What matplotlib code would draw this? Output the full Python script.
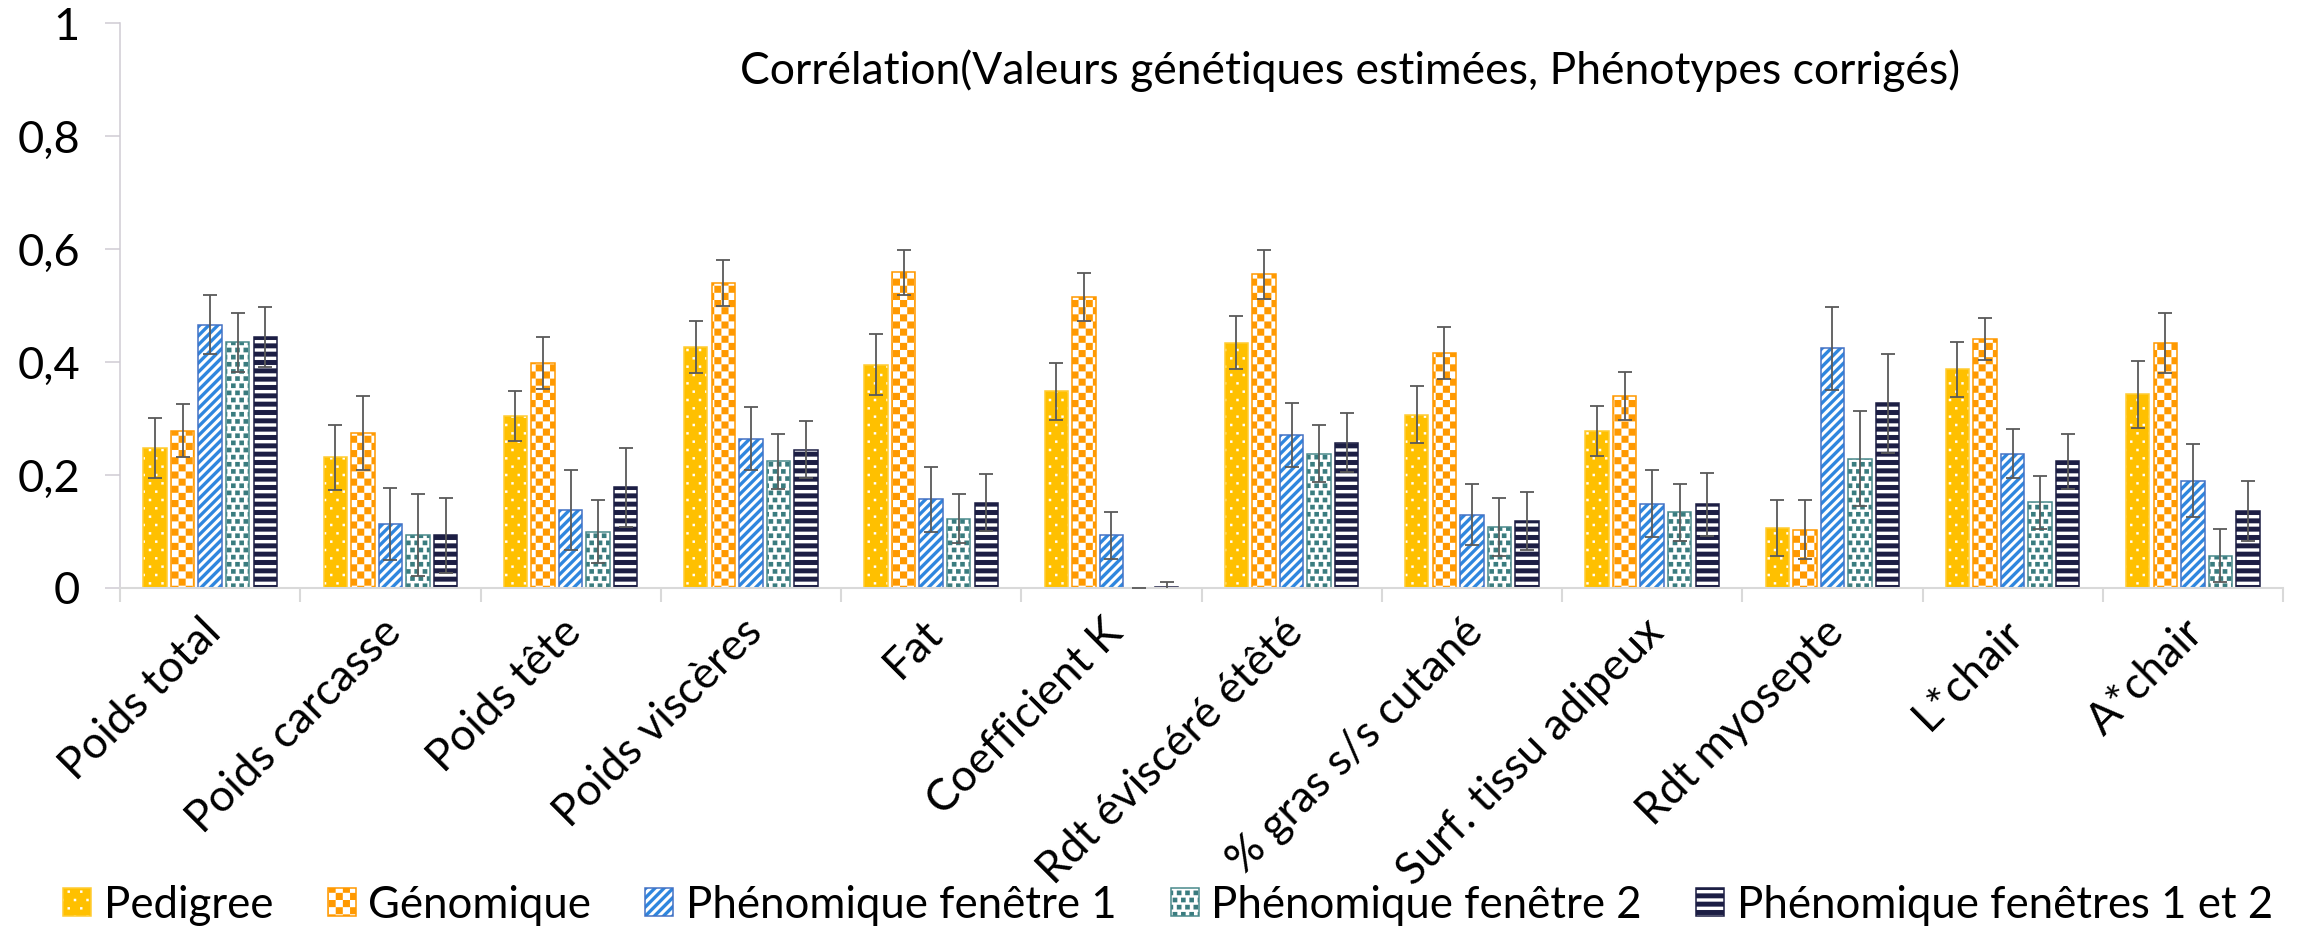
import numpy as np
import matplotlib
matplotlib.use("Agg")
import matplotlib.pyplot as plt
from matplotlib import hatch as mhatch
from matplotlib.path import Path
from matplotlib.patches import Rectangle
from matplotlib.legend_handler import HandlerTuple
import matplotlib.transforms as mtransforms

# ---------------- data ----------------
categories = ["Poids total", "Poids carcasse", "Poids tête", "Poids viscères", "Fat",
              "Coefficient K", "Rdt éviscéré étêté", "% gras s/s cutané",
              "Surf. tissu adipeux", "Rdt myosepte", "L*chair", "A*chair"]
series_names = ["Pedigree", "Génomique", "Phénomique fenêtre 1",
                "Phénomique fenêtre 2", "Phénomique fenêtres 1 et 2"]

pedigree = [0.248, 0.231, 0.305, 0.426, 0.395, 0.348, 0.434, 0.307, 0.278, 0.106, 0.387, 0.343]
pedigree_err = [0.053, 0.058, 0.044, 0.046, 0.054, 0.050, 0.047, 0.051, 0.045, 0.050, 0.049, 0.059]
genomique = [0.278, 0.274, 0.398, 0.540, 0.559, 0.515, 0.555, 0.416, 0.340, 0.103, 0.441, 0.433]
genomique_err = [0.047, 0.065, 0.046, 0.040, 0.040, 0.042, 0.043, 0.046, 0.043, 0.052, 0.037, 0.053]
phen1 = [0.466, 0.113, 0.138, 0.264, 0.157, 0.093, 0.271, 0.130, 0.149, 0.424, 0.238, 0.190]
phen1_err = [0.052, 0.064, 0.070, 0.056, 0.058, 0.042, 0.057, 0.054, 0.059, 0.073, 0.044, 0.064]
phen2 = [0.435, 0.094, 0.100, 0.224, 0.123, -0.002, 0.238, 0.108, 0.134, 0.229, 0.152, 0.057]
phen2_err = [0.052, 0.072, 0.055, 0.048, 0.043, 0.002, 0.050, 0.051, 0.050, 0.084, 0.047, 0.047]
phen12 = [0.445, 0.093, 0.178, 0.245, 0.151, 0.002, 0.257, 0.119, 0.148, 0.327, 0.224, 0.136]
phen12_err = [0.053, 0.066, 0.070, 0.051, 0.050, 0.008, 0.052, 0.051, 0.056, 0.088, 0.049, 0.053]

y_ticks = [0, 0.2, 0.4, 0.6, 0.8, 1.0]
y_tick_labels = ["0", "0,2", "0,4", "0,6", "0,8", "1"]
title = "Corrélation(Valeurs génétiques estimées, Phénotypes corrigés)"

# ---------------- custom fill patterns (hatch tiles, 1 inch) ----------------
DPI = 100


def _quad(x0, y0, x1, y1):
    return [(x0, y0), (x1, y0), (x1, y1), (x0, y1)]


class PolyHatch(mhatch.HatchPatternBase):
    char = None

    def __init__(self, hatch, density):
        use = bool(hatch) and hatch.count(self.char) > 0
        self.polys = self.build() if use else []
        self.num_vertices = 5 * len(self.polys)

    def build(self):
        return []

    def set_vertices_and_codes(self, vertices, codes):
        for i, poly in enumerate(self.polys):
            vertices[5 * i:5 * i + 4] = poly
            vertices[5 * i + 4] = poly[0]
            codes[5 * i] = Path.MOVETO
            codes[5 * i + 1:5 * i + 4] = Path.LINETO
            codes[5 * i + 4] = Path.CLOSEPOLY


def _staggered(nc, nr, s):
    polys = []
    for r in range(nr + 1):
        y = r / nr
        shift = 0.5 / nc if r % 2 else 0.0
        for c in range(-1, nc + 1):
            xc = c / nc + shift
            polys.append(_quad(xc - s / 2, y - s / 2, xc + s / 2, y + s / 2))
    return polys


class DotHatch(PolyHatch):
    char = "."

    def build(self):
        return _staggered(8, 12, 2.4 / DPI)


class CheckerHatch(PolyHatch):
    char = "O"

    def build(self):
        n = 14
        d = 1.0 / n
        return [_quad(i * d, j * d, (i + 1) * d, (j + 1) * d)
                for i in range(n) for j in range(n) if (i + j) % 2 == 0]


class SquareHatch(PolyHatch):
    char = "o"

    def build(self):
        return _staggered(12, 14, 4.6 / DPI)


class HStripeHatch(PolyHatch):
    char = "-"

    def build(self):
        n, t = 12, 3.3 / DPI
        return [_quad(-0.1, k / n - t / 2, 1.1, k / n + t / 2) for k in range(n + 1)]


class DiagHatch(PolyHatch):
    char = "/"

    def build(self):
        n, t = 11, 4.6 / DPI
        polys = []
        for k in range(-n - 2, n + 2):
            c = k / n
            polys.append([(-0.2, -0.2 + c), (1.2, 1.2 + c),
                          (1.2, 1.2 + c + t), (-0.2, -0.2 + c + t)])
        return polys


mhatch._hatch_types[:] = [DotHatch, CheckerHatch, SquareHatch, HStripeHatch, DiagHatch]

plt.rcParams["hatch.linewidth"] = 0.05
plt.rcParams["font.family"] = ["Lato", "DejaVu Sans"]

# ---------------- figure ----------------
W, H = 2303, 927
fig = plt.figure(figsize=(W / DPI, H / DPI), dpi=DPI)
fig.patch.set_facecolor("white")

ax_l, ax_r, ax_b, ax_t = 120, 2283, 588, 23
ax = fig.add_axes([ax_l / W, (H - ax_b) / H, (ax_r - ax_l) / W, (ax_b - ax_t) / H])

styles = [
    # face, pattern colour, pattern, outline
    ("#FFC000", "white", ".", "#FFCC33"),
    ("#FF9900", "white", "O", "#FF9900"),
    ("white", "#2E86DE", "/", "#4472C4"),
    ("white", "#3A7C7F", "o", "#4A8A8C"),
    ("#1C1E44", "white", "-", "#1C1E44"),
]
values = [pedigree, genomique, phen1, phen2, phen12]
errors = [pedigree_err, genomique_err, phen1_err, phen2_err, phen12_err]

x = np.arange(len(categories))
pitch, width = 0.153, 0.13
handles = []
for i, (vals, errs, (face, pcol, pat, edge)) in enumerate(zip(values, errors, styles)):
    pos = x + (i - 2) * pitch
    ax.bar(pos, vals, width, facecolor=face, edgecolor="none", linewidth=0, zorder=2)
    ax.bar(pos, vals, width, facecolor="none", edgecolor=pcol, hatch=pat, linewidth=0, zorder=2.1)
    ax.bar(pos, vals, width, facecolor="none", edgecolor=edge, linewidth=1.1, zorder=2.2)
    ax.errorbar(pos, vals, yerr=errs, fmt="none", ecolor="#595959", elinewidth=1.3,
                capsize=4.7, capthick=1.3, zorder=3)
    handles.append((Rectangle((0, 0), 1, 1, facecolor=face, edgecolor="none", linewidth=0),
                    Rectangle((0, 0), 1, 1, facecolor="none", edgecolor=pcol, hatch=pat, linewidth=0),
                    Rectangle((0, 0), 1, 1, facecolor="none", edgecolor=edge, linewidth=1.1)))

ax.set_xlim(-0.5, len(categories) - 0.5)
ax.set_ylim(0, 1)

for s in ("top", "right"):
    ax.spines[s].set_visible(False)
ax.spines["left"].set_color("#CFCBD3")
ax.spines["left"].set_linewidth(1.1)
ax.spines["bottom"].set_color("#D9D9D9")
ax.spines["bottom"].set_linewidth(1.5)

ax.set_yticks(y_ticks, y_tick_labels)
ax.tick_params(axis="y", length=10.8, width=1.1, color="#CFCBD3", pad=18,
               labelsize=32.5, labelcolor="black")

ax.set_xticks(x, categories, rotation=45, ha="right", va="top", rotation_mode="anchor")
ax.set_xticks(np.arange(len(categories) + 1) - 0.5, minor=True)
ax.tick_params(axis="x", which="major", length=0, pad=17, labelsize=32, labelcolor="black")
ax.tick_params(axis="x", which="minor", length=10, width=1.5, color="#D9D9D9")
shift = mtransforms.ScaledTranslation(-10 / DPI, 0, fig.dpi_scale_trans)
for lab in ax.get_xticklabels():
    lab.set_transform(lab.get_transform() + shift)

fig.text(1350 / W, 1 - 71 / H, title, ha="center", va="center", fontsize=32, color="black")

fig.legend(handles, series_names, loc="center", bbox_to_anchor=(1168 / W, 1 - 905 / H),
           ncol=5, frameon=False, fontsize=31.5, handlelength=0.64, handleheight=0.62,
           handletextpad=0.28, columnspacing=1.25, borderpad=0, borderaxespad=0,
           handler_map={tuple: HandlerTuple(ndivide=1)})

fig.savefig("out.png", dpi=DPI, facecolor="white")
